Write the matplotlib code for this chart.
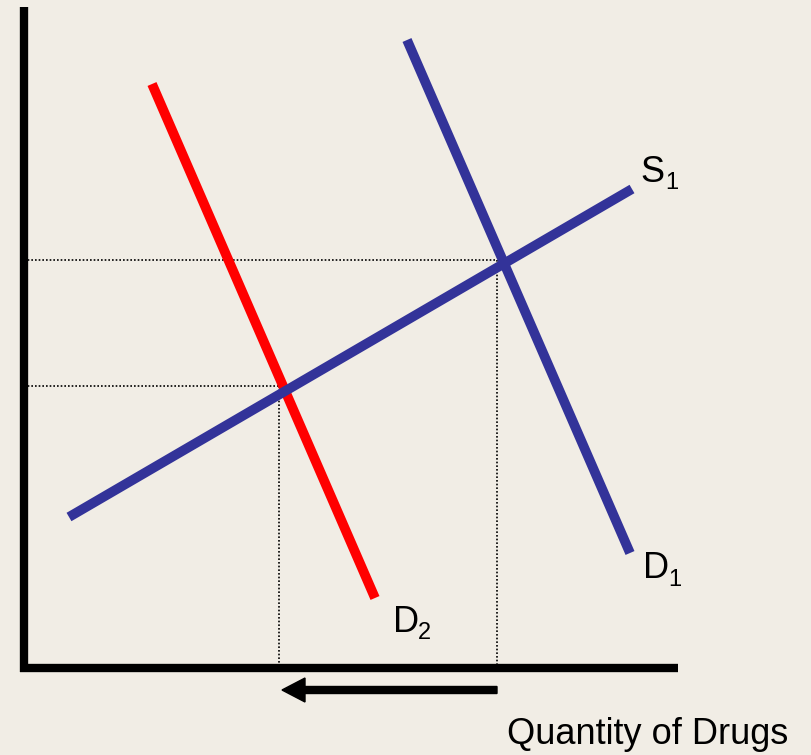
import matplotlib
matplotlib.use("Agg")
from matplotlib import pyplot as plt

plt.rcParams['font.family'] = ['Liberation Sans', 'DejaVu Sans']

# canvas units are pixels of the original slide (y grows downward)
supply_s1 = ([69, 632], [517, 189])
demand_d1 = ([407, 630], [40, 553])
demand_d2 = ([152, 375], [84, 598])

eq_old = (497, 260)
eq_new = (279, 386)
origin = (24, 668)

arrow_from = 497
arrow_to = 282
arrow_y = 690

labels = [("S", "1", 640, 172), ("D", "1", 643, 569), ("D", "2", 393, 622)]
xlabel = "Quantity of Drugs"

bg = "#F1EDE5"
blue = "#333399"
red = "#FF0000"

fig = plt.figure(figsize=(8.11, 7.55), dpi=100, facecolor=bg)
ax = fig.add_axes([0, 0, 1, 1])
ax.set_facecolor(bg)
ax.set_xlim(0, 811)
ax.set_ylim(755, 0)
ax.axis('off')

# axes
ax.plot([origin[0], origin[0]], [7, origin[1] + 4], color='black', lw=6, solid_capstyle='butt')
ax.plot([origin[0] - 4, 678], [origin[1], origin[1]], color='black', lw=6, solid_capstyle='butt')

# dotted guide lines
for qx, py in (eq_old, eq_new):
    ax.plot([origin[0], qx], [py, py], color='black', lw=1.2, ls=(0, (1, 1.2)))
    ax.plot([qx, qx], [py, origin[1]], color='black', lw=1.2, ls=(0, (1, 1.2)))

# curves
ax.plot(*demand_d2, color=red, lw=7, solid_capstyle='butt')
ax.plot(*demand_d1, color=blue, lw=7, solid_capstyle='butt')
ax.plot(*supply_s1, color=blue, lw=7, solid_capstyle='butt')

# shift arrow
ax.arrow(arrow_from, arrow_y, arrow_to - arrow_from, 0, width=7, head_width=24,
         head_length=23, length_includes_head=True, color='black')

for main, sub, x, y in labels:
    ax.text(x, y, main, fontsize=26, ha='left', va='center', color='black')
    ax.text(x + 25, y + 11, sub, fontsize=17, ha='left', va='center', color='black')

ax.text(648, 735, xlabel, fontsize=26, ha='center', va='center', color='black')

fig.savefig("out.png", dpi=100, facecolor=bg)
